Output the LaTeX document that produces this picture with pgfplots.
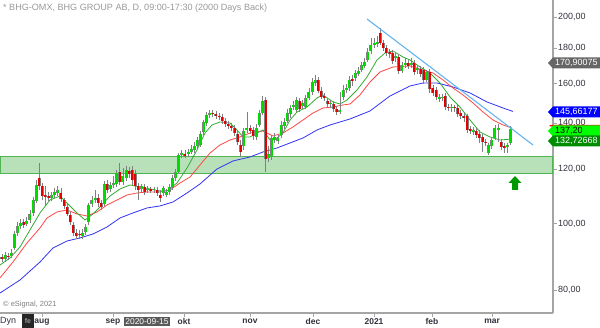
\documentclass[border=0pt]{standalone}
\usepackage{pgfplots}
\pgfplotsset{compat=1.18}
\usepackage{pgfplotstable}
\usepackage{fontspec}
\setmainfont{Liberation Sans}
\definecolor{cgreen}{RGB}{0,220,0}
\definecolor{cred}{RGB}{230,0,0}
\definecolor{wick}{RGB}{128,128,128}
\definecolor{magreen}{RGB}{50,170,50}
\definecolor{mared}{RGB}{255,70,70}
\definecolor{mablue}{RGB}{50,50,245}
\definecolor{trend}{RGB}{100,180,240}
\definecolor{zonefill}{RGB}{185,225,185}
\definecolor{zoneline}{RGB}{80,180,80}
\definecolor{axisgray}{RGB}{165,165,165}
\definecolor{labgray}{RGB}{50,50,60}

\pgfplotstableread{
i o h l c
1 88.78 90.89 87.89 89.98
3 89.68 91.81 89.08 90.59
4 92.12 97.53 91.50 96.56
5 96.88 100.53 95.91 99.18
6 99.18 101.54 98.19 100.19
8 99.86 102.23 99.18 100.86
9 101.20 104.65 100.19 103.26
10 103.61 109.32 102.57 108.22
11 107.86 115.73 107.14 113.81
16 108.95 111.17 107.86 110.05
17 110.05 112.67 108.95 111.17
18 110.79 113.43 109.68 111.91
26 95.91 98.19 94.95 96.88
27 97.21 99.86 96.23 98.85
28 100.53 107.14 99.51 106.42
29 106.78 109.68 105.71 108.22
30 108.22 111.91 107.14 108.95
33 106.78 115.35 106.07 114.19
35 112.29 114.96 111.17 113.81
36 113.81 117.30 112.67 114.58
37 114.19 119.68 113.05 118.49
39 114.96 120.49 113.81 117.30
40 116.51 121.30 115.35 119.68
45 112.29 114.19 110.79 113.43
47 111.91 113.43 110.79 112.29
49 111.91 113.05 110.79 112.29
52 110.79 113.43 109.68 112.67
53 110.05 112.29 109.32 111.17
54 111.17 114.19 110.05 113.05
55 113.05 117.69 111.91 116.51
56 116.51 120.09 115.35 118.88
57 118.88 126.71 118.09 125.86
58 125.86 127.99 124.61 126.71
60 126.29 128.42 125.02 127.14
61 127.14 130.16 126.29 128.42
62 127.99 131.48 126.71 129.73
63 129.73 133.70 128.42 132.36
64 130.16 136.42 129.29 135.06
65 135.97 141.55 134.60 140.61
66 140.14 145.41 138.74 143.95
67 143.95 146.38 142.51 144.92
78 129.73 137.81 127.99 136.42
79 136.88 145.41 135.51 137.81
82 133.70 139.67 132.36 137.81
83 139.20 146.38 138.27 144.92
84 144.92 153.43 143.95 150.88
86 124.61 129.73 122.95 126.29
87 125.44 134.60 123.77 133.26
88 132.36 135.51 131.04 133.70
89 131.92 134.60 130.60 133.26
90 134.60 141.08 133.26 139.20
91 138.74 142.51 137.34 140.61
92 141.08 146.88 140.14 144.92
93 144.44 148.86 142.51 147.37
94 147.87 150.88 146.38 148.86
95 146.38 152.92 145.41 151.38
97 148.36 151.38 146.88 149.87
98 147.87 153.94 146.88 152.40
99 152.40 157.60 151.38 155.50
100 155.50 162.99 153.94 160.81
101 160.27 164.63 158.66 161.89
106 149.36 151.38 147.37 149.87
109 145.41 155.50 144.44 146.38
110 152.92 159.19 151.38 156.54
111 156.54 159.73 154.98 157.60
112 157.60 164.08 156.02 161.89
114 162.99 167.41 161.35 165.74
115 165.19 169.12 164.08 166.85
116 167.41 171.98 166.30 170.25
117 169.68 174.30 168.55 171.98
118 173.13 180.24 171.98 177.84
119 178.44 186.40 176.65 182.06
120 182.06 186.40 180.24 183.29
121 182.68 187.65 180.85 183.91
127 174.30 177.84 171.98 175.47
129 166.85 171.98 165.74 170.25
130 170.25 174.30 168.55 171.40
132 170.25 174.30 168.55 171.40
134 167.41 170.25 165.19 168.55
137 161.89 167.41 160.81 166.30
141 151.89 154.46 150.37 152.92
142 152.40 154.46 150.88 152.92
145 147.37 149.36 145.41 147.87
152 135.97 138.27 134.60 136.88
157 126.71 131.04 125.86 130.16
158 129.73 133.70 128.42 132.36
159 133.26 139.20 132.36 137.81
160 136.88 139.67 131.48 137.81
163 129.29 131.04 126.71 130.16
164 131.04 138.74 130.16 137.20
}\upc

\pgfplotstableread{
i o h l c
0 89.38 90.28 87.89 88.78
2 89.68 90.59 88.48 89.38
7 100.53 101.54 98.52 99.51
12 116.51 122.53 111.91 113.43
13 113.43 114.58 108.22 109.68
14 110.05 113.43 106.07 109.32
15 109.68 111.17 107.86 108.95
19 110.79 112.67 107.50 108.59
20 108.22 108.95 105.00 106.07
21 105.71 106.78 102.57 103.26
22 102.91 103.95 99.51 100.53
23 99.51 100.53 95.91 96.88
24 96.88 98.19 94.95 95.91
25 96.56 97.86 94.95 96.23
31 108.95 110.42 105.71 107.14
32 107.14 108.22 104.65 105.71
34 114.19 115.73 110.79 111.91
38 118.88 122.53 113.81 114.96
41 119.28 120.90 116.51 118.09
42 119.68 121.30 113.81 115.73
43 118.09 119.68 111.91 113.43
44 113.43 114.58 108.22 111.91
46 113.05 114.19 110.05 111.17
48 112.29 113.05 110.79 111.54
50 111.91 113.05 109.68 110.79
51 110.05 111.91 107.50 108.95
59 126.29 127.99 124.61 125.44
68 144.92 146.38 142.99 144.44
69 144.44 145.89 142.03 143.47
70 143.47 144.92 141.55 142.99
71 142.99 144.44 139.67 141.08
72 141.08 142.51 138.27 139.67
73 139.67 141.08 137.34 138.74
74 138.74 140.14 136.42 137.81
75 137.81 139.20 134.15 135.51
76 135.06 136.42 130.16 131.48
77 130.16 132.36 125.02 127.14
80 137.81 139.20 135.06 136.42
81 136.88 138.27 132.36 134.15
85 151.38 152.92 118.88 124.19
96 150.88 152.40 145.41 146.88
102 161.89 163.54 154.98 156.02
103 156.02 158.13 151.89 152.92
104 153.43 154.98 150.88 152.40
105 150.88 152.40 147.87 149.36
107 149.36 150.88 145.41 146.88
108 146.88 148.36 143.95 145.41
113 162.44 164.63 158.66 161.35
122 189.55 192.76 182.06 183.29
123 183.29 185.14 178.44 180.24
124 180.24 182.06 175.47 177.25
125 177.84 179.64 174.30 176.65
126 177.25 179.03 170.83 172.55
128 174.89 176.65 165.19 166.85
131 171.40 173.13 167.98 169.68
133 171.40 173.13 164.63 166.30
135 167.98 169.68 163.54 165.19
136 167.41 169.12 159.73 161.89
138 166.30 167.98 154.98 157.07
139 157.60 159.19 153.43 154.98
140 156.54 158.13 151.38 152.92
143 153.43 154.98 146.38 147.87
144 147.87 149.36 145.89 147.37
146 147.87 148.86 145.41 147.37
147 147.37 148.86 142.99 144.44
148 144.92 146.38 142.03 143.47
149 143.47 144.92 140.61 142.51
150 143.47 144.44 135.51 136.88
151 137.34 138.74 135.06 136.42
153 136.42 137.81 133.26 134.60
154 135.06 136.88 131.04 133.26
155 133.70 135.06 127.14 131.48
156 131.48 132.81 129.73 131.04
161 131.48 132.81 127.99 129.29
162 129.73 131.04 126.71 128.86
}\dnc

\pgfplotstableread{
i v
-0.65 87.01
2.58 89.08
5.81 92.43
9.03 97.86
12.26 103.61
15.48 108.22
18.71 109.68
20.97 107.14
24.19 103.61
26.77 101.20
29.35 103.26
31.61 105.71
34.84 109.68
38.06 112.29
41.29 113.81
44.52 113.05
47.74 112.29
50.97 111.54
53.23 111.54
56.45 114.58
59.68 120.49
62.90 127.99
65.48 135.51
67.74 139.20
70.32 140.61
73.55 140.14
75.81 136.88
77.74 133.70
80.00 133.70
82.26 135.51
84.19 136.88
86.45 132.36
88.71 133.26
90.65 135.51
92.90 141.55
95.16 145.41
98.39 147.87
101.61 152.40
103.55 153.94
106.77 150.37
109.03 149.36
111.29 151.38
114.52 156.54
117.74 163.54
120.97 173.13
123.55 177.25
126.13 178.44
129.35 174.89
131.61 173.13
134.84 169.12
138.06 165.74
141.29 160.27
144.52 152.92
147.74 147.87
150.97 141.55
154.19 135.97
157.42 133.70
160.65 132.36
164.00 132.73
}\maG

\pgfplotstableread{
i v
-0.65 83.30
3.55 87.89
8.06 93.68
12.26 98.52
14.52 101.88
17.74 103.95
20.97 104.65
24.19 103.26
27.42 102.57
30.65 103.95
33.87 106.42
37.10 108.22
40.32 110.05
43.55 110.79
46.77 111.17
50.97 111.17
54.19 111.91
57.42 114.58
60.65 116.91
63.87 121.71
67.10 126.71
70.32 130.16
73.55 132.36
76.77 133.70
80.00 135.51
84.19 136.42
87.42 134.15
90.65 135.51
93.87 138.27
97.10 141.55
100.32 144.92
103.55 147.37
106.77 147.87
110.00 148.86
112.26 149.36
115.48 153.94
118.71 160.81
121.94 166.30
126.13 169.12
131.61 169.68
135.81 167.41
139.03 165.74
142.26 161.89
145.48 157.60
148.71 153.94
151.94 149.87
155.16 145.41
158.39 141.55
161.61 139.20
164.52 137.81
}\maR

\pgfplotstableread{
i v
-0.65 79.21
5.81 82.74
12.26 87.89
16.45 92.12
20.97 94.31
25.16 95.27
29.35 96.56
33.87 98.85
38.06 101.88
42.26 103.61
46.77 105.36
50.97 106.07
55.16 107.50
59.68 110.79
63.87 114.19
69.35 120.09
74.52 123.36
80.00 125.02
84.19 127.14
88.71 128.86
92.90 131.04
97.10 133.26
101.61 136.88
105.81 139.20
112.26 142.03
118.71 145.89
125.16 153.43
131.61 158.66
135.81 160.27
140.32 160.27
145.48 158.13
150.97 154.98
156.45 150.37
161.61 147.37
164.84 145.66
}\maB

\newcommand{\pricetag}[4]{%
  \fill[#2] (548,#1) -- (553,{#1-5.5}) -- (600,{#1-5.5}) -- (600,{#1+5.5}) -- (553,{#1+5.5}) -- cycle;
  \node[anchor=west, text=#3, font=\fontsize{9}{10}\selectfont, inner sep=0pt] at (555,#1) {#4};}

\pgfplotsset{
  candle/.style={draw=none, mark=none, forget plot, error bars/y explicit, error bars/error mark=none},
}

\begin{document}
\begin{tikzpicture}
\useasboundingbox (0,0) rectangle (600bp,328bp);
\begin{axis}[
  at={(0bp,15bp)}, anchor=south west,
  scale only axis, width=553bp, height=313bp,
  xmin=-0.645, xmax=177.74,
  ymode=log, ymin=74.07, ymax=211.74,
  axis x line*=bottom, axis y line*=right,
  axis line style={axisgray, line width=1.5bp, -},
  tick style={axisgray, line width=0.8bp},
  tick align=outside, major tick length=4bp,
  ytick={80,100,120,140,160,180,200},
  yticklabels={{80,00},{100,00},{120,00},{140,00},{160,00},{180,00},{200,00}},
  yminorticks=false, xminorticks=false,
  xtick={12.9,35.8,58.7,80.0,100.3,120.0,138.7,158.1},
  xticklabels={aug,sep,okt,nov,dec,2021,feb,mar},
  x tick label style={font=\fontsize{8.5}{9}\selectfont\bfseries, text=labgray, inner sep=0.5bp, yshift=-1bp},
  y tick label style={font=\fontsize{9}{10}\selectfont, text=labgray, inner sep=1bp},
]
% support zone
\addplot[fill=zonefill, draw=zoneline, line width=1.2bp, forget plot]
  coordinates {(-0.645,118.2) (177.74,118.2) (177.74,125.2) (-0.645,125.2)} -- cycle;
% moving averages
\addplot[mablue, line width=0.8bp, mark=none] table[x=i,y=v] {\maB};
\addplot[mared, line width=0.8bp, mark=none] table[x=i,y=v] {\maR};
\addplot[magreen, line width=0.8bp, mark=none] table[x=i,y=v] {\maG};
% wicks
\addplot[candle, error bars/y dir=minus, error bars/error bar style={draw=wick, line width=0.8bp}]
  table[x=i, y=h, y error minus expr=\thisrow{h}-\thisrow{l}] {\upc};
\addplot[candle, error bars/y dir=minus, error bars/error bar style={draw=wick, line width=0.8bp}]
  table[x=i, y=h, y error minus expr=\thisrow{h}-\thisrow{l}] {\dnc};
% bodies (outline then colour)
\addplot[candle, error bars/y dir=plus, error bars/error bar style={draw=wick, line width=3bp}]
  table[x=i, y=o, y error plus expr=\thisrow{c}-\thisrow{o}] {\upc};
\addplot[candle, error bars/y dir=plus, error bars/error bar style={draw=cgreen, line width=2bp}]
  table[x=i, y=o, y error plus expr=\thisrow{c}-\thisrow{o}] {\upc};
\addplot[candle, error bars/y dir=plus, error bars/error bar style={draw=wick, line width=3bp}]
  table[x=i, y=c, y error plus expr=\thisrow{o}-\thisrow{c}] {\dnc};
\addplot[candle, error bars/y dir=plus, error bars/error bar style={draw=cred, line width=2bp}]
  table[x=i, y=c, y error plus expr=\thisrow{o}-\thisrow{c}] {\dnc};
% trend line
\addplot[trend, line width=1.1bp, mark=none] coordinates {(117.74,198.66) (171.29,130.16)};
\end{axis}
\begin{scope}[x=1bp, y=-1bp, shift={(0bp,328bp)}]
  \node[anchor=west, text=black!40, font=\fontsize{9.1}{10}\selectfont, inner sep=0pt] at (3,8)
    {* BHG-OMX, BHG GROUP AB, D, 09:00-17:30 (2000 Days Back)};
  \node[anchor=west, text=black!50, font=\fontsize{7.5}{9}\selectfont, inner sep=0pt] at (3,305)
    {\textcopyright{} eSignal, 2021};
  \pricetag{63}{black!60}{white}{170,90075}
  \pricetag{112}{blue}{white}{145,66177}
  \fill[red] (549,126) -- (551,124.8) -- (600,124.8) -- (600,126.5) -- (551,126.5) -- cycle;
  \pricetag{131}{green}{black}{137,20}
  \pricetag{141}{green!55!black}{white}{132,72668}
  % date cursor box
  \node[fill=black!65, text=white, font=\fontsize{8.5}{9}\selectfont, inner sep=1.5bp, anchor=center] at (147,321.5) {2020-09-15};
  % Dyn and icon
  \node[anchor=west, text=labgray, font=\fontsize{9}{10}\selectfont, inner sep=0pt] at (0,321) {Dyn};
  \fill[black!85] (22,314) rectangle (34,328);
  \node[text=black!40, font=\fontsize{7}{8}\selectfont\bfseries, inner sep=0pt] at (28,321) {fe};
  % green arrow
  \fill[green!60!black] (515,176) -- (521.5,183) -- (518,183) -- (518,190) -- (512,190) -- (512,183) -- (508.5,183) -- cycle;
\end{scope}
\end{tikzpicture}
\end{document}
